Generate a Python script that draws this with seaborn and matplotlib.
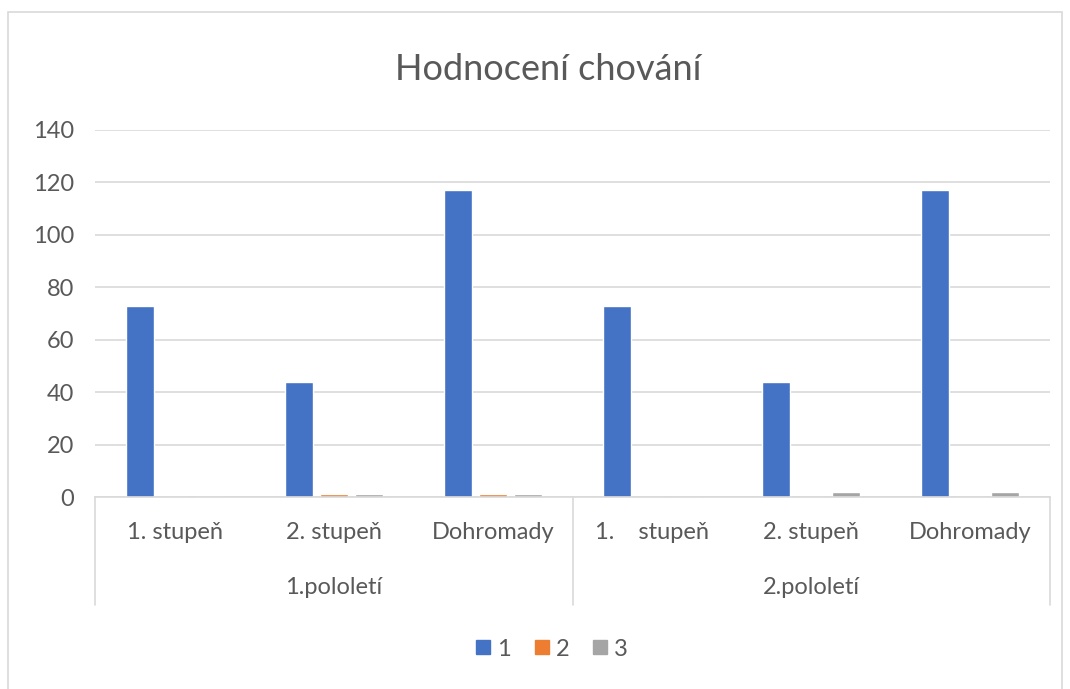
import pandas as pd
import seaborn as sns
import matplotlib.pyplot as plt
from matplotlib.lines import Line2D
from matplotlib.patches import Rectangle
from matplotlib.transforms import blended_transform_factory

# Data
halves = ['1.pololetí', '2.pololetí']
sub_labels = ['1. stupeň', '2. stupeň', 'Dohromady', '1.    stupeň', '2. stupeň', 'Dohromady']
series = ['1', '2', '3']
vals_1 = [73, 44, 117, 73, 44, 117]
vals_2 = [0, 1, 1, 0, 0, 0]
vals_3 = [0, 1, 1, 0, 2, 2]
colors = ['#4472C4', '#ED7D31', '#A5A5A5']

rows = []
for i in range(len(sub_labels)):
    for s, v in zip(series, [vals_1[i], vals_2[i], vals_3[i]]):
        rows.append({'pos': i, 'serie': s, 'value': v})
df = pd.DataFrame(rows)

sns.set_style('white')
plt.rcParams['font.family'] = ['Lato', 'DejaVu Sans']
text_color = '#595959'
grid_color = '#D9D9D9'

fig = plt.figure(figsize=(10.7, 6.89), dpi=100)
W, H = 1070, 689
ax = fig.add_axes([95 / W, 1 - 497 / H, (1050 - 95) / W, (497 - 130) / H])

sns.barplot(data=df, x='pos', y='value', hue='serie', hue_order=series,
            palette=colors, width=0.66, gap=0.2, ax=ax, saturation=1, legend=False)

ax.set_xlim(-0.5, len(sub_labels) - 0.5)
ax.set_ylim(0, 140)
ax.set_yticks(range(0, 141, 20))
ax.yaxis.grid(True, color=grid_color, linewidth=1.2)
ax.set_axisbelow(True)
for side in ['top', 'right', 'left']:
    ax.spines[side].set_visible(False)
ax.spines['bottom'].set_color(grid_color)
ax.spines['bottom'].set_linewidth(1.2)
ax.tick_params(axis='y', length=0, labelsize=17, labelcolor=text_color, pad=15)
ax.tick_params(axis='x', length=0, labelsize=17, labelcolor=text_color, pad=18)
ax.set_xticks(range(len(sub_labels)))
ax.set_xticklabels(sub_labels)
ax.set_xlabel('')
ax.set_ylabel('')

# multi-level category axis
trans = blended_transform_factory(ax.transData, ax.transAxes)
ax_h = (497 - 130)
for xline in [-0.5, 2.5, 5.5]:
    ax.plot([xline, xline], [0, -108 / ax_h], transform=trans, color=grid_color,
            linewidth=1.2, clip_on=False)
for gi, name in enumerate(halves):
    ax.text(gi * 3 + 1, -90 / ax_h, name, transform=trans, ha='center', va='center',
            fontsize=17, color=text_color)

fig.text(548 / W, 1 - 69 / H, 'Hodnocení chování', ha='center', va='center',
         fontsize=26, color=text_color)

# legend with square markers
handles = [Line2D([], [], marker='s', linestyle='', color=c, markersize=10) for c in colors]
fig.legend(handles, series, loc='center', bbox_to_anchor=(552 / W, 1 - 649 / H), ncol=3,
           frameon=False, fontsize=17, labelcolor=text_color, handlelength=0.6,
           handletextpad=0.3, columnspacing=1.0)

fig.patches.append(Rectangle((8 / W, -0.01), (1062 - 8) / W, 1 - 12 / H + 0.01,
                             transform=fig.transFigure, fill=False,
                             edgecolor=grid_color, linewidth=1.2))

fig.savefig('out.png', dpi=100)
